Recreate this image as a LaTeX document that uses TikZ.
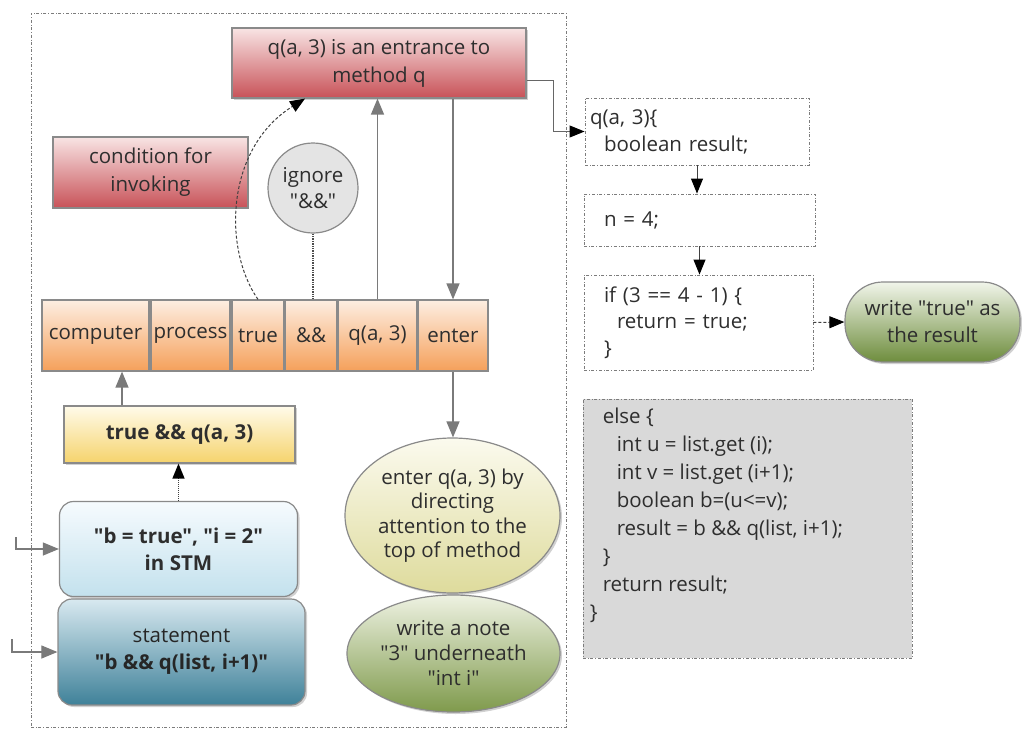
\documentclass[tikz,border=0pt]{standalone}
\usepackage{fontspec}
\setmainfont{Open Sans}[Ligatures=TeXOff]
\usetikzlibrary{arrows.meta,shapes.geometric,shadows,calc}

\definecolor{txt}{HTML}{2E2E2E}
\definecolor{edge}{HTML}{8A8A8A}
\definecolor{redtop}{HTML}{F8E4E4}
\definecolor{redbot}{HTML}{C85258}
\definecolor{ortop}{HTML}{FDEEE2}
\definecolor{orbot}{HTML}{F5A05A}
\definecolor{yeltop}{HTML}{FFFBEA}
\definecolor{yelbot}{HTML}{F5D36C}
\definecolor{bluetop}{HTML}{F6FBFE}
\definecolor{bluebot}{HTML}{C3E1ED}
\definecolor{tealtop}{HTML}{D8E9F0}
\definecolor{tealbot}{HTML}{3F8199}
\definecolor{paletop}{HTML}{FBFAEE}
\definecolor{palebot}{HTML}{DEDB9C}
\definecolor{greentop}{HTML}{EEF2E2}
\definecolor{greenbot}{HTML}{7F9A4C}
\definecolor{pilltop}{HTML}{F1F5EA}
\definecolor{pillbot}{HTML}{6E8D3D}
\definecolor{circfill}{HTML}{E4E4E4}
\definecolor{codefill}{HTML}{D9D9D9}
\definecolor{codeline}{HTML}{7C7C7C}
\definecolor{arrgray}{HTML}{7A7A7A}

\begin{document}
\begin{tikzpicture}[x=1pt,y=-1pt,
  every node/.style={text=txt},
  lab/.style={font=\fontsize{20.5}{#1}\selectfont},
  lab/.default=27,
  frame/.style={draw=edge, line width=1.2pt, inner sep=0pt, align=center},
  redbox/.style={frame, top color=redtop, bottom color=redbot, lab=28},
  orbox/.style={frame, top color=ortop, bottom color=orbot, minimum height=71pt, lab},
  soft/.style={drop shadow={shadow xshift=2pt, shadow yshift=-2pt, opacity=0.3, fill=black!60}},
  codebox/.style={draw=codeline, dash dot, line width=0.9pt, inner sep=0pt},
  codetext/.style={align=left, inner sep=0pt, lab=27},
  outerframe/.style={draw=codeline, dash dot, line width=0.9pt, inner sep=0pt},
  garr/.style={draw=arrgray, line width=1.3pt, -{Triangle[width=13pt,length=16pt,color=arrgray]}},
  karr/.style={draw=black!75, line width=1pt, -{Triangle[width=12pt,length=15pt,color=black]}},
  kdash/.style={karr, densely dashed},
  kdot/.style={draw=black!70, line width=1.4pt, densely dotted}
]
\useasboundingbox (0,0) rectangle (1022,736);

% working area
\node[outerframe, minimum width=535pt, minimum height=714pt] (area) at (298.5,370) {};

% upper red notes
\node[redbox, soft, minimum width=294pt, minimum height=70pt] (top) at (379,63)
  {q(a, 3) is an entrance to\\method q};
\node[redbox, minimum width=195pt, minimum height=71pt] (cond) at (150.5,172.5)
  {condition for\\invoking};
\node[circle, draw=edge, line width=1.2pt, fill=circfill, minimum size=90pt,
      inner sep=0pt, align=center, lab=26] (ign) at (313,188) {ignore\\"\&\&"};

% token row
\node[orbox, minimum width=107pt] (comp) at (95.5,335.5) {computer};
\node[orbox, minimum width=79pt] (proc) at (190.5,335.5) {process};
\node[orbox, minimum width=52pt] (tru) at (258,335.5) {true};
\node[orbox, minimum width=52pt] (and) at (311,335.5) {\&\&};
\node[orbox, minimum width=79pt] (qa) at (377.5,335.5) {q(a, 3)};
\node[orbox, minimum width=70pt] (ent) at (453,335.5) {enter};

% expression and memory
\node[frame, soft, top color=yeltop, bottom color=yelbot, minimum width=231pt,
      minimum height=57pt, lab, font=\fontsize{20.5}{27}\selectfont\bfseries] (yel) at (179.5,434.5)
  {true \&\& q(a, 3)};
\node[frame, soft, rounded corners=14pt, top color=bluetop, bottom color=bluebot,
      minimum width=238pt, minimum height=95pt, font=\fontsize{20.5}{27}\selectfont\bfseries] (stm) at (178.5,549)
  {"b = true", "i = 2"\\in STM};
\node[frame, soft, rounded corners=14pt, top color=tealtop, bottom color=tealbot,
      minimum width=247pt, minimum height=106pt, lab, text=black!85] (stmt) at (181.5,652)
  {statement\\{\bfseries "b \&\& q(list, i+1)"}};

% attention notes
\node[ellipse, frame, soft, top color=paletop, bottom color=palebot,
      minimum width=215pt, minimum height=155pt, lab=24.5] (ell1) at (452.5,515.5)
  {enter q(a, 3) by\\directing\\attention to the\\top of method};
\node[ellipse, frame, soft, top color=greentop, bottom color=greenbot,
      minimum width=213pt, minimum height=117pt, lab=25] (ell2) at (453.5,653.5)
  {write a note\\"3" underneath\\"int i"};

% method body
\node[codebox, minimum width=224pt, minimum height=67pt, text width=214pt,
      inner xsep=5pt, codetext] (c1) at (697,131.5)
  {q(a, 3)\{\\\hspace*{14pt}boolean result;};
\node[codebox, minimum width=231pt, minimum height=52pt, text width=221pt,
      inner xsep=5pt, codetext] (c2) at (699.5,220)
  {\hspace*{15pt}n = 4;};
\node[codebox, minimum width=229pt, minimum height=95pt, text width=219pt,
      inner xsep=5pt, codetext, lab=26.5] (c3) at (698.5,322.5)
  {\hspace*{15pt}if (3 == 4 - 1) \{\\\hspace*{28pt}return = true;\\\hspace*{15pt}\}};
\node[codebox, fill=codefill, minimum width=329pt, minimum height=259pt] (c4) at (747.5,528.5) {};
\node[codetext, anchor=north west, lab=28, xshift=7pt, yshift=-9pt] (c4t) at (c4.north west)
  {\hspace*{13pt}else \{\\
   \hspace*{27pt}int u = list.get (i);\\
   \hspace*{27pt}int v = list.get (i+1);\\
   \hspace*{27pt}boolean b=(u<=v);\\
   \hspace*{27pt}result = b \&\& q(list, i+1);\\
   \hspace*{13pt}\}\\
   \hspace*{13pt}return result;\\
   \}};
\node[frame, soft, rounded corners=38pt, top color=pilltop, bottom color=pillbot,
      minimum width=175pt, minimum height=80pt, lab=27] (pill) at (932.5,322)
  {write "true" as\\the result};

% helper points for connector ends
\coordinate (xa) at (122,0);
\coordinate (xc) at (305,0);
\coordinate (s1) at (16,537);
\coordinate (s2) at (12,639);

% connectors
\draw[garr] (yel.north -| xa) -- (comp.south -| xa);
\draw[garr] (qa.north) -- (qa.north |- top.south);
\draw[garr] (top.south -| ent.north) -- (ent.north);
\draw[garr] (ent.south) -- (ent.south |- ell1.north);
\draw[garr, line width=1.1pt] (s1) |- (stm.west);
\draw[garr, line width=1.1pt] (s2) |- (stmt.west);
\draw[kdash] (tru.north) .. controls +(-35,-50) and +(-80,50) .. (top.south -| xc);
\draw[kdot] (ign.south) -- (ign.south |- and.north);
\draw[karr, densely dotted, line width=1.4pt] (stm.north) -- (stm.north |- yel.south);
\draw[karr, draw=black!60] ($(top.south east)+(0,-18)$) -- ++(27,0) |- (c1.west);
\draw[karr] (c1.south) -- (c1.south |- c2.north);
\draw[karr] (c2.south) -- (c2.south |- c3.north);
\draw[kdash] (c3.east) -- (pill.west);
\end{tikzpicture}
\end{document}
